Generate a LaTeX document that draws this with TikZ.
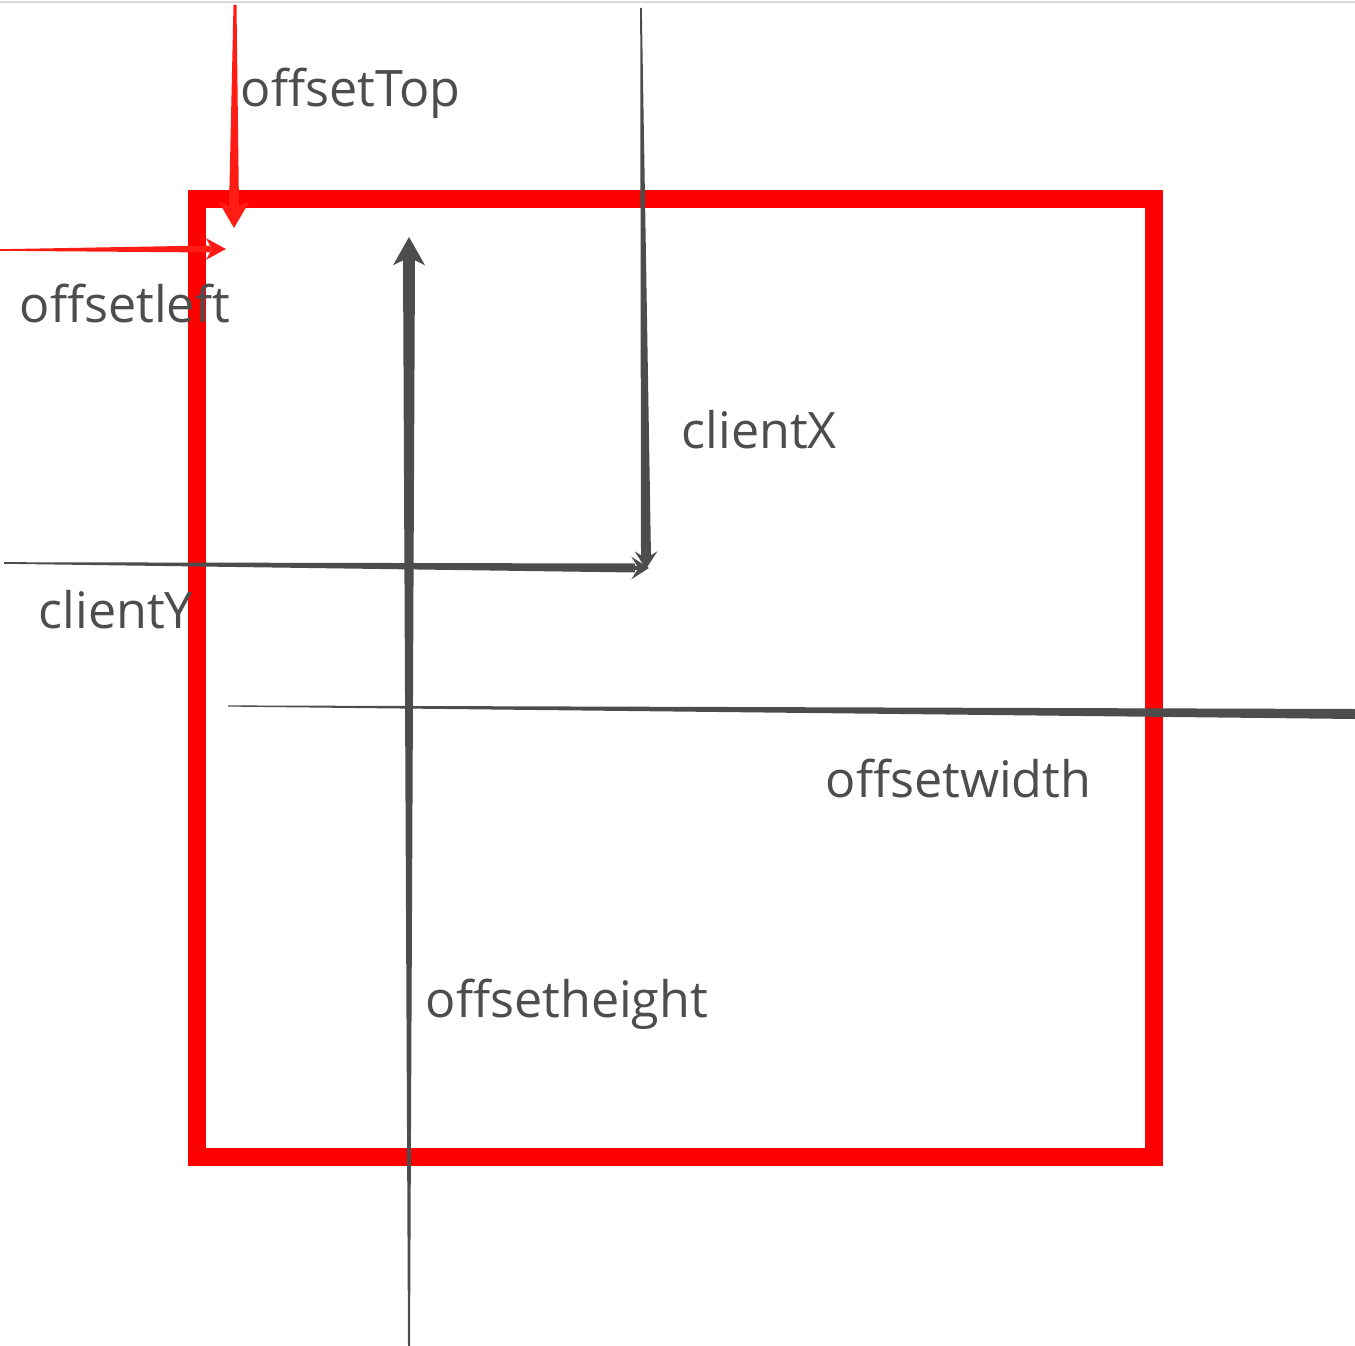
\documentclass[tikz,border=0pt]{standalone}
\usepackage{fontspec}
\setmainfont{Open Sans}
\usetikzlibrary{arrows.meta,calc}
\definecolor{boxred}{HTML}{FF0000}
\definecolor{penred}{HTML}{FF1C14}
\definecolor{ink}{HTML}{4D4D4D}
\begin{document}
\begin{tikzpicture}[x=0.01cm,y=-0.01cm,
  lbl/.style={anchor=base west,inner sep=0,text=ink,font=\fontsize{14.3}{16}\selectfont},
  redtip/.style={-{Stealth[length=7.6pt,width=8.8pt,inset=2pt]},penred,line width=1pt},
  smallred/.style={-{Stealth[length=5.6pt,width=6pt,inset=1.6pt]},penred,line width=1pt},
  graytip/.style={-{Stealth[length=5pt,width=6.4pt,inset=2pt]},ink,line width=1pt},
  bigtip/.style={-{Stealth[length=8pt,width=9pt,inset=2.2pt]},ink,line width=1pt}]
\useasboundingbox (0,0) rectangle (1355,1346);
\draw[black!15,line width=0.5pt] (0,2) -- (1355,2);

\draw[boxred,line width=0.18cm] (197,199) rectangle (1154,1157);

\coordinate (topS) at (235,5);
\coordinate (topE) at (234,228);
\coordinate (leftS) at (0,250);
\coordinate (leftE) at (226,249);
\coordinate (xS) at (641,8);
\coordinate (xE) at (646,569);
\coordinate (yS) at (4,563);
\coordinate (yE) at (649,568);
\coordinate (wS) at (228,706);
\coordinate (wE) at (1355,714);
\coordinate (hS) at (409,1346);
\coordinate (hE) at (409,237);

\fill[penred] ($(topS)+(-1.5,0)$) -- ($(topE)+(-5,-20)$) -- ($(topE)+(5,-20)$) -- ($(topS)+(1.5,0)$) -- cycle;
\draw[redtip] ($(topE)+(0,-20)$) -- (topE);
\fill[penred] ($(leftS)+(0,-0.8)$) -- ($(leftE)+(-16,-3.5)$) -- ($(leftE)+(-16,3.5)$) -- ($(leftS)+(0,0.8)$) -- cycle;
\draw[smallred] ($(leftE)+(-16,0)$) -- (leftE);

\fill[ink] ($(xS)+(-0.8,0)$) -- ($(xE)+(-5,-12)$) -- ($(xE)+(5,-12)$) -- ($(xS)+(0.8,0)$) -- cycle;
\draw[graytip] ($(xE)+(0,-12)$) -- (xE);
\fill[ink] ($(yS)+(0,-0.8)$) -- ($(yE)+(-14,-4.5)$) -- ($(yE)+(-14,4.5)$) -- ($(yS)+(0,0.8)$) -- cycle;
\draw[graytip] ($(yE)+(-14,0)$) -- (yE);
\fill[ink] ($(wS)+(0,-0.6)$) -- ($(wE)+(0,-5)$) -- ($(wE)+(0,5)$) -- ($(wS)+(0,0.6)$) -- cycle;
\fill[ink] ($(hS)+(-1,0)$) -- ($(hE)+(-6,22)$) -- ($(hE)+(6,22)$) -- ($(hS)+(1,0)$) -- cycle;
\draw[bigtip] ($(hE)+(0,22)$) -- (hE);

\node[lbl] (top) at (240,107) {offsetTop};
\node[lbl] (left) at (19,323) {offsetleft};
\node[lbl] (cx) at (681,448) {clientX};
\node[lbl] (cy) at (38,628) {clientY};
\node[lbl] (ow) at (825,797) {offsetwidth};
\node[lbl] (oh) at (425,1017) {offsetheight};
\end{tikzpicture}
\end{document}
